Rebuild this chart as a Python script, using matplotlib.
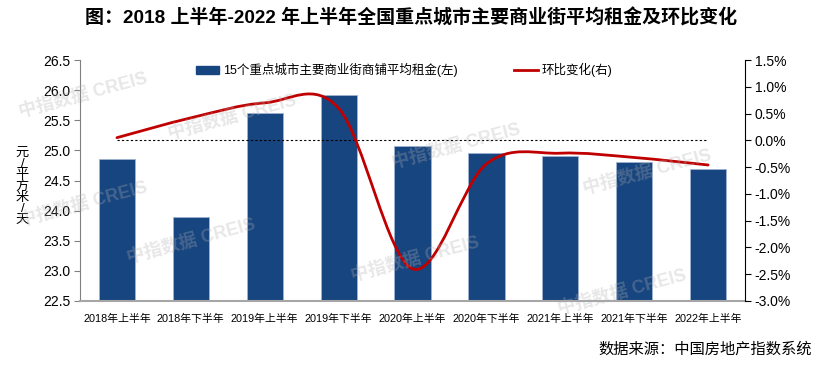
import numpy as np
from matplotlib import pyplot as plt
from matplotlib.path import Path
from matplotlib.patches import PathPatch, Patch
from matplotlib.lines import Line2D
from matplotlib.ticker import FuncFormatter, MultipleLocator

plt.rcParams["font.family"] = ["Liberation Sans", "Noto Sans CJK SC", "DejaVu Sans"]

# ===数据
periods = [
    "2018年上半年", "2018年下半年", "2019年上半年", "2019年下半年", "2020年上半年",
    "2020年下半年", "2021年上半年", "2021年下半年", "2022年上半年",
]
rent = [24.85, 23.9, 25.62, 25.92, 25.08, 24.96, 24.9, 24.8, 24.69]
mom_change = [0.05, 0.42, 0.7, 0.6, -2.4, -0.44, -0.24, -0.32, -0.46]  # %

title = "图：2018 上半年-2022 年上半年全国重点城市主要商业街平均租金及环比变化"
bar_label = "15个重点城市主要商业街商铺平均租金(左)"
line_label = "环比变化(右)"
y_unit = "元/平方米/天"
source = "数据来源：中国房地产指数系统"

bar_color = "#17457f"
line_color = "#c00000"


def smooth_path(xs, ys):
    # 类似Excel平滑线: Catmull-Rom转三次贝塞尔
    pts = np.column_stack([xs, ys]).astype(float)
    n = len(pts)
    verts = [pts[0]]
    codes = [Path.MOVETO]
    for i in range(n - 1):
        p0 = pts[max(i - 1, 0)]
        p1 = pts[i]
        p2 = pts[i + 1]
        p3 = pts[min(i + 2, n - 1)]
        verts += [p1 + (p2 - p0) / 6, p2 - (p3 - p1) / 6, p2]
        codes += [Path.CURVE4] * 3
    return Path(verts, codes)


fig = plt.figure(figsize=(8.3, 3.66), dpi=100)
ax = fig.add_axes([0.0964, 0.1776, 0.8012, 0.6584])
x = np.arange(len(periods))

ax.bar(x, rent, width=0.49, color=bar_color, edgecolor="#9fb3d3", linewidth=0.6, zorder=2)
ax.set_ylim(22.5, 26.5)
ax.set_xlim(-0.5, len(periods) - 0.5)
ax.yaxis.set_major_locator(MultipleLocator(0.5))
ax.yaxis.set_major_formatter(FuncFormatter(lambda v, p: f"{v:.1f}"))
ax.set_xticks(x)
ax.set_xticklabels(periods, fontsize=7.8)
ax.tick_params(axis="x", length=0, pad=9)
ax.tick_params(axis="y", labelsize=10, length=4, color="#808080", pad=3)
for s in ["top", "right"]:
    ax.spines[s].set_visible(False)
ax.spines["left"].set_color("#808080")
ax.spines["bottom"].set_color("#a6a6a6")
ax.spines["bottom"].set_linewidth(1.5)

ax2 = ax.twinx()
ax2.set_ylim(-3.0, 1.5)
ax2.yaxis.set_major_locator(MultipleLocator(0.5))
ax2.yaxis.set_major_formatter(FuncFormatter(lambda v, p: f"{v:.1f}%"))
ax2.tick_params(axis="y", labelsize=10, length=4, pad=3)
for s in ["top", "left", "bottom"]:
    ax2.spines[s].set_visible(False)
ax2.plot([x[0], x[-1]], [0, 0], color="black", linestyle=(0, (2, 2)), linewidth=0.8)
ax2.add_patch(PathPatch(smooth_path(x, mom_change), facecolor="none",
                        edgecolor=line_color, linewidth=2, capstyle="round", zorder=3))

handles = [
    Patch(facecolor=bar_color, edgecolor=bar_color),
    Line2D([], [], color=line_color, linewidth=2),
]
ax2.legend(handles, [bar_label, line_label], ncol=2, loc="upper center",
           bbox_to_anchor=(0.487, 1.035), frameon=False, fontsize=9,
           columnspacing=4.5, handlelength=1.9, handletextpad=0.3, handleheight=0.6)

fig.text(0.027, 0.49, "\n".join(y_unit), ha="center", va="center", fontsize=9.5,
         linespacing=0.9)
fig.text(0.495, 0.952, title, ha="center", va="center", fontsize=13.7, fontweight="bold")
fig.text(0.978, 0.045, source, ha="right", va="center", fontsize=11)

# 水印
wm = [(0.1, 0.74), (0.28, 0.68), (0.55, 0.6), (0.78, 0.53), (0.1, 0.44),
      (0.23, 0.34), (0.5, 0.29), (0.75, 0.2)]
for wx, wy in wm:
    fig.text(wx, wy, "中指数据 CREIS", fontsize=13, fontweight="bold", color="#b0b0b0",
             alpha=0.3, rotation=15, ha="center", va="center", zorder=10)

fig.savefig("out.png", dpi=100)
